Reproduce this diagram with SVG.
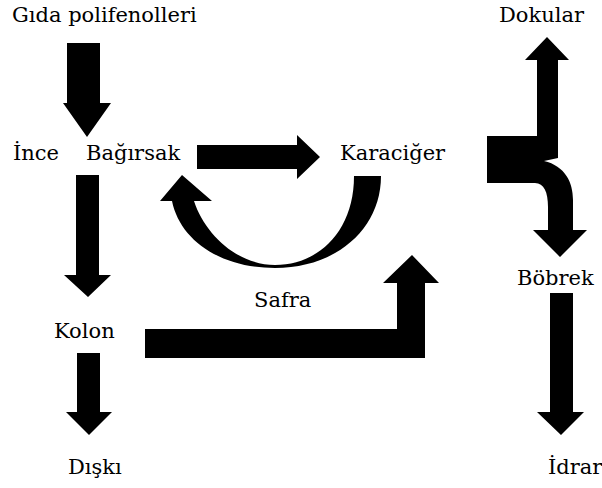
<svg xmlns="http://www.w3.org/2000/svg" width="602" height="488" viewBox="0 0 602 488">
<style>
text{font-family:'DejaVu Serif','Liberation Serif','Times New Roman',serif;font-size:21px;fill:#000}
.a{fill:#000;stroke:none}
</style>
<rect width="602" height="488" fill="#fff"/>
<g id="gida"><text x="12" y="22">Gıda polifenolleri</text></g>
<g id="ince"><text x="13" y="160">İnce</text></g>
<g id="bagirsak"><text x="86" y="160">Bağırsak</text></g>
<g id="karaciger"><text x="340" y="160">Karaciğer</text></g>
<g id="dokular"><text x="499" y="22">Dokular</text></g>
<g id="bobrek"><text x="517" y="285">Böbrek</text></g>
<g id="safra"><text x="254" y="307">Safra</text></g>
<g id="kolon"><text x="54" y="338">Kolon</text></g>
<g id="diski"><text x="68" y="474">Dışkı</text></g>
<g id="idrar"><text x="548" y="474">İdrar</text></g>
<g id="connectors" class="a">
<path d="M67,43 H100 V103 H111 L87,137 L63,103 H67 Z"/>
<path d="M197,145 H297 V135 L320,157 L297,179 V169 H197 Z"/>
<path d="M381,176 C381,230 335,268 275,268 C220,268 180,240 172,201 L160,201 L182,175 L212,201 L194,201 C205,235 238,265 275,265 C318,265 354,232 354,176 Z"/>
<path d="M76,175 H99 V275 H111 L88,297 L64,275 H76 Z"/>
<path d="M77,353 H100 V412 H112 L89,435 L66,412 H77 Z"/>
<path d="M145,329 H397 V283 H383 L412,255 L439,283 H425 V358 H145 Z"/>
<path d="M550,293 H573 V412 H584 L561,435 L537,412 H550 Z"/>
<path d="M487,136 H537 V60 H525 L547,37 L569,60 H558 V158 L544,161 C565,166 573,182 573,200 V230 H587 L560,257 L533,230 H548 V207 C548,192 544,183 535,183 H487 Z"/>
</g>
</svg>
